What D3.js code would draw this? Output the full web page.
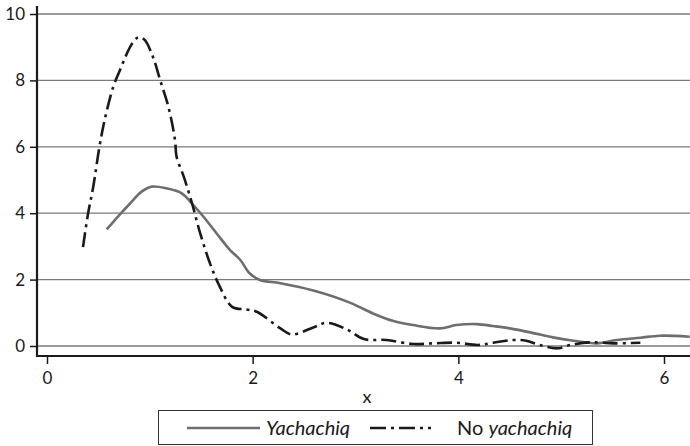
<!DOCTYPE html>
<html>
<head>
<meta charset="utf-8">
<script src="https://cdn.jsdelivr.net/npm/d3@7"></script>
<style>
  html, body { margin: 0; padding: 0; background: #fff; }
  svg { display: block; font-family: Lato, "Open Sans", sans-serif; }
</style>
</head>
<body>
<svg id="chart" width="690" height="446"></svg>
<script>
// ---- data ----
const yachX = [0.58, 0.69, 0.81, 0.92, 1.02, 1.16, 1.31, 1.42, 1.52, 1.65, 1.78, 1.88, 1.97, 2.07, 2.27, 2.59, 2.95, 3.17, 3.37, 3.56, 3.82, 3.98, 4.18, 4.34, 4.50, 4.70, 4.92, 5.12, 5.35, 5.54, 5.77, 5.96, 6.25];
const yachY = [3.51, 3.90, 4.30, 4.65, 4.80, 4.75, 4.60, 4.25, 3.90, 3.39, 2.89, 2.59, 2.19, 1.99, 1.89, 1.67, 1.30, 0.98, 0.75, 0.63, 0.53, 0.63, 0.66, 0.60, 0.53, 0.41, 0.26, 0.16, 0.08, 0.18, 0.25, 0.31, 0.28];
const noX = [0.35, 0.40, 0.45, 0.51, 0.56, 0.645, 0.71, 0.81, 0.87, 0.90, 0.95, 1.03, 1.10, 1.18, 1.245, 1.26, 1.33, 1.41, 1.49, 1.585, 1.68, 1.80, 1.94, 2.04, 2.27, 2.38, 2.59, 2.72, 2.915, 3.08, 3.30, 3.56, 3.76, 3.98, 4.19, 4.34, 4.53, 4.66, 4.79, 4.96, 5.09, 5.28, 5.51, 5.77];
const noY = [2.98, 4.00, 4.80, 6.00, 6.80, 7.81, 8.31, 9.02, 9.27, 9.30, 9.22, 8.71, 8.01, 7.21, 6.20, 5.70, 5.10, 4.30, 3.39, 2.49, 1.79, 1.18, 1.10, 1.03, 0.53, 0.35, 0.56, 0.70, 0.50, 0.21, 0.18, 0.06, 0.08, 0.10, 0.03, 0.10, 0.18, 0.16, 0.03, -0.07, 0.03, 0.11, 0.08, 0.10];
const xTicks = [0, 2, 4, 6];
const yTicks = [0, 2, 4, 6, 8, 10];
const seriesNames = ["Yachachiq", "No yachachiq"];

// ---- layout ----
const svg = d3.select("#chart");
const mLeft = 37, mRight = 690, mBottom = 356, mTop = 6;
const x = d3.scaleLinear().domain([0, 6]).range([47, 664]);
const y = d3.scaleLinear().domain([0, 10]).range([346, 14]);

// gridlines
svg.append("g").selectAll("line").data(yTicks).join("line")
  .attr("x1", mLeft).attr("x2", mRight)
  .attr("y1", d => y(d)).attr("y2", d => y(d))
  .attr("stroke", "#7a7a7a").attr("stroke-width", 1.3);

// clip for plot area
svg.append("clipPath").attr("id", "plotclip").append("rect")
  .attr("x", mLeft).attr("y", 0).attr("width", mRight - mLeft).attr("height", mBottom);

const line = d3.line().x(d => x(d[0])).y(d => y(d[1])).curve(d3.curveCatmullRom.alpha(0.5));
const plot = svg.append("g").attr("clip-path", "url(#plotclip)");

plot.append("path").datum(d3.zip(yachX, yachY))
  .attr("d", line).attr("fill", "none")
  .attr("stroke", "#6e6e6e").attr("stroke-width", 2.6).attr("stroke-linejoin", "round");

plot.append("path").datum(d3.zip(noX, noY))
  .attr("d", line).attr("fill", "none")
  .attr("stroke", "#1a1a1a").attr("stroke-width", 2.6)
  .attr("stroke-dasharray", "15,5,3,5");

// axes
const yAxis = svg.append("g").attr("transform", `translate(${mLeft},0)`)
  .call(d3.axisLeft(y).tickValues(yTicks).tickSize(7).tickPadding(5).tickFormat(d3.format("d")));
yAxis.select(".domain").remove();
yAxis.append("line").attr("x1", 0).attr("x2", 0).attr("y1", mTop).attr("y2", mBottom + 1)
  .attr("stroke", "#1a1a1a").attr("stroke-width", 2.2);

const xAxis = svg.append("g").attr("transform", `translate(0,${mBottom})`)
  .call(d3.axisBottom(x).tickValues(xTicks).tickSize(8).tickPadding(8).tickFormat(d3.format("d")));
xAxis.select(".domain").remove();
xAxis.append("line").attr("x1", mLeft - 1).attr("x2", mRight).attr("y1", 0).attr("y2", 0)
  .attr("stroke", "#1a1a1a").attr("stroke-width", 2.2);

svg.selectAll(".tick line").attr("stroke", "#1a1a1a").attr("stroke-width", 1.5);
svg.selectAll(".tick text").attr("font-size", 17).attr("fill", "#1a1a1a")
  .attr("font-family", "Lato, 'Open Sans', sans-serif");

// x label
svg.append("text").attr("x", 367).attr("y", 403).attr("text-anchor", "middle")
  .attr("font-size", 18).attr("fill", "#1a1a1a").text("x");

// legend
const lg = svg.append("g");
lg.append("rect").attr("x", 158.5).attr("y", 410.5).attr("width", 434).attr("height", 34)
  .attr("fill", "none").attr("stroke", "#333").attr("stroke-width", 1);
lg.append("line").attr("x1", 187).attr("x2", 260).attr("y1", 428).attr("y2", 428)
  .attr("stroke", "#6e6e6e").attr("stroke-width", 2.6);
lg.append("text").attr("x", 266).attr("y", 435).attr("font-size", 20)
  .attr("font-style", "italic").attr("fill", "#1a1a1a").text(seriesNames[0]);
lg.append("line").attr("x1", 370).attr("x2", 440).attr("y1", 428).attr("y2", 428)
  .attr("stroke", "#1a1a1a").attr("stroke-width", 2.6)
  .attr("stroke-dasharray", "16,5,3,5,16,5,3,5,3,50");
const t2 = lg.append("text").attr("x", 457).attr("y", 435).attr("font-size", 20).attr("fill", "#1a1a1a");
t2.append("tspan").text(seriesNames[1].split(" ")[0] + " ");
t2.append("tspan").attr("font-style", "italic").text(seriesNames[1].split(" ")[1]);
</script>
</body>
</html>
